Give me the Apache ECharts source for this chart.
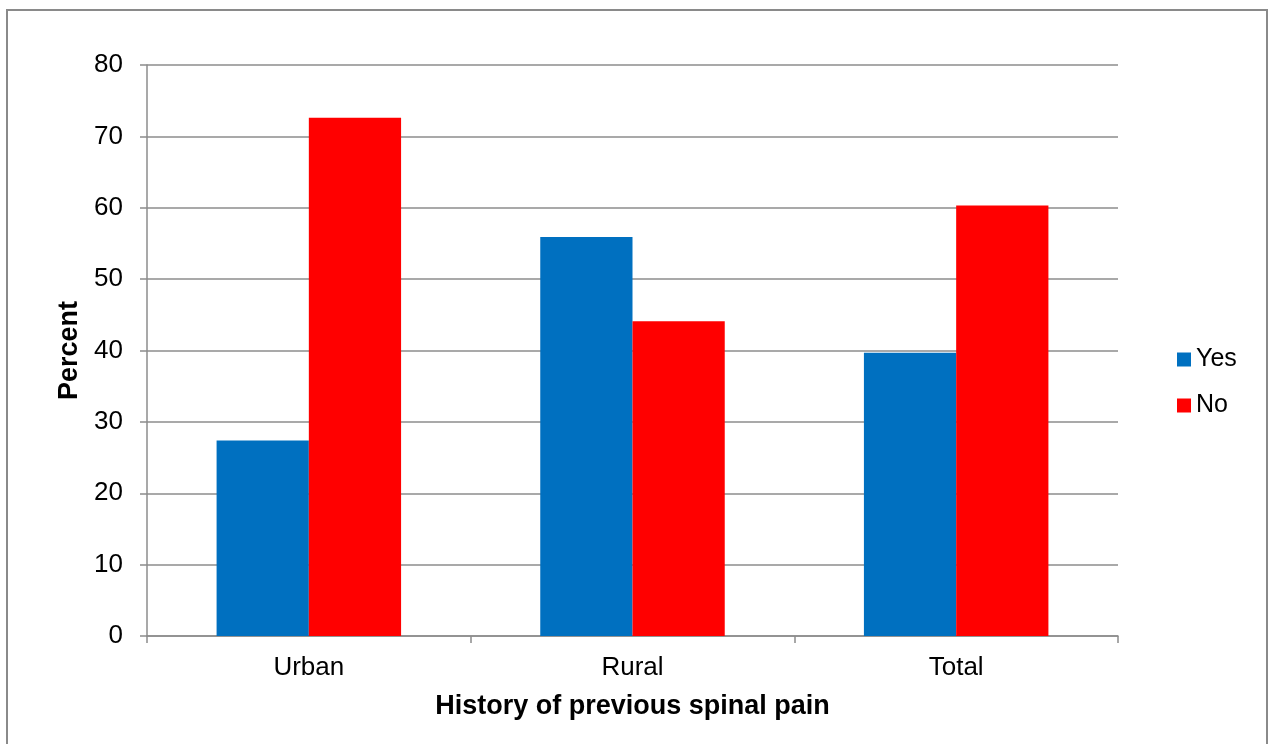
<!DOCTYPE html>
<html>
<head>
<meta charset="utf-8">
<script src="https://cdn.jsdelivr.net/npm/echarts@6/dist/echarts.min.js"></script>
<style>
html,body{margin:0;padding:0;background:#fff;}
#main{width:1269px;height:744px;}
</style>
</head>
<body>
<div id="main"></div>
<script>
var categories=['Urban','Rural','Total'];
var yesValues=[27.4,55.9,39.7];
var noValues=[72.6,44.1,60.3];
var seriesNames=['Yes','No'];

var chart=echarts.init(document.getElementById('main'));
var font='"Liberation Sans", Arial, sans-serif';
var option={
	animation:false,
	backgroundColor:'#fff',
	color:['#0070c0','#ff0000'],
	graphic:[{
		type:'rect',
		shape:{x:7,y:10,width:1260,height:745},
		style:{fill:'none',stroke:'#8a8a8a',lineWidth:2}
	}],
	grid:{left:147,right:151,top:65,bottom:108},
	legend:{
		orient:'vertical',
		left:1177,
		top:347,
		padding:0,
		itemWidth:14,
		itemHeight:14,
		itemGap:21,
		icon:'rect',
		textStyle:{fontFamily:font,fontSize:25,color:'#000'},
		data:seriesNames
	},
	xAxis:{
		type:'category',
		data:categories,
		name:'History of previous spinal pain',
		nameLocation:'middle',
		nameGap:57,
		nameTextStyle:{fontFamily:font,fontSize:27,fontWeight:'bold',color:'#000'},
		axisLine:{lineStyle:{color:'#8c8c8c',width:1.5}},
		axisTick:{show:true,length:7,lineStyle:{color:'#8c8c8c',width:1.5}},
		axisLabel:{fontFamily:font,fontSize:26,color:'#000',margin:19}
	},
	yAxis:{
		type:'value',
		min:0,
		max:80,
		interval:10,
		name:'Percent',
		nameLocation:'middle',
		nameGap:61,
		nameTextStyle:{fontFamily:font,fontSize:27,fontWeight:'bold',color:'#000'},
		axisLine:{show:true,lineStyle:{color:'#8c8c8c',width:1.5}},
		axisTick:{show:true,length:7,lineStyle:{color:'#8c8c8c',width:1.5}},
		axisLabel:{fontFamily:font,fontSize:26,color:'#000',margin:24,padding:[5,0,0,0]},
		splitLine:{lineStyle:{color:'#8c8c8c',width:1.5}}
	},
	series:[{
		name:seriesNames[0],
		type:'bar',
		data:yesValues,
		barGap:'0%',
		barCategoryGap:'43%'
	},{
		name:seriesNames[1],
		type:'bar',
		data:noValues,
		barGap:'0%',
		barCategoryGap:'43%'
	}]
};
chart.setOption(option);
window.addEventListener('resize',function(){
	chart.resize();
});
</script>
</body>
</html>
